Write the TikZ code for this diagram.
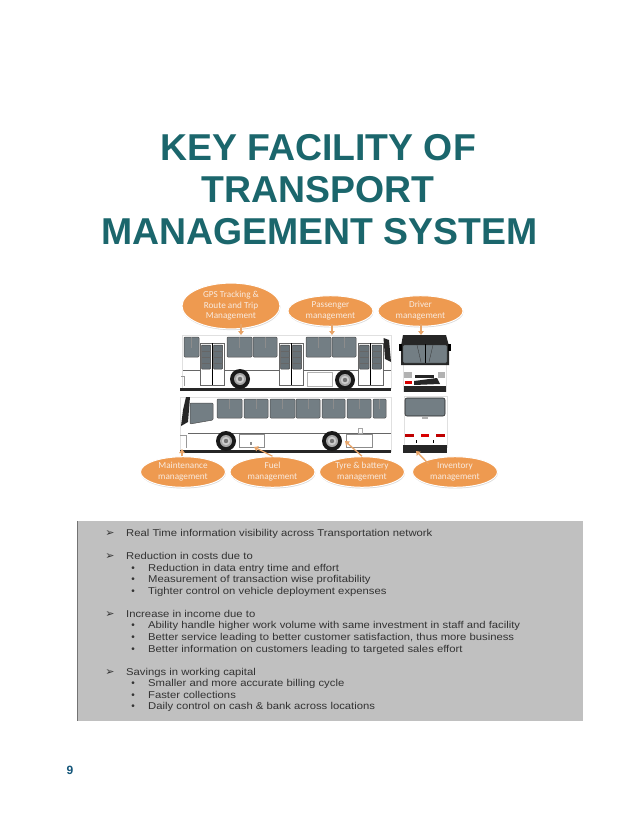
\documentclass[tikz,border=0pt]{standalone}
\usepackage{fontspec}
\setmainfont{Liberation Sans}
\newfontfamily\carl{Carlito}
\newfontfamily\djv{DejaVu Sans}
\newfontfamily\panelf[FakeStretch=1.133]{Liberation Sans}
\usetikzlibrary{shapes.geometric,shadows,arrows.meta}
\definecolor{teal1}{HTML}{1B666C}
\definecolor{pagenum}{HTML}{14567A}
\definecolor{orangeE}{HTML}{EE9A50}
\definecolor{arrowO}{HTML}{E8A468}
\definecolor{creamT}{HTML}{F8EADF}
\definecolor{glass}{HTML}{737E84}
\definecolor{panelG}{HTML}{C0C0C0}
\definecolor{panelT}{HTML}{333333}
\newcommand{\bubtext}[1]{\raisebox{-1pt}{\begin{tabular}{@{}c@{}}#1\end{tabular}}}
\tikzset{
  titletext/.style={font=\fontsize{37.4}{42}\selectfont\bfseries,text=teal1,align=center,inner sep=0pt},
  bubble/.style={ellipse,fill=orangeE,draw=white,line width=1pt,inner sep=0pt,
    font=\carl\fontsize{9.2}{10.8}\selectfont,text=creamT,
    drop shadow={shadow xshift=0.4pt,shadow yshift=-1.2pt,opacity=.3,fill=gray}},
  bubbleS/.style={bubble,minimum width=85pt,minimum height=26pt},
  link/.style={draw=arrowO,line width=1.3pt,-{Triangle[width=5.5pt,length=4pt]}},
  win/.style={fill=glass,draw=black!70,line width=.5pt,rounded corners=1pt},
  pane/.style={fill=glass!90!black,draw=black!75,line width=.5pt,rounded corners=.7pt},
  bodyline/.style={draw=black!60,line width=.45pt},
  shellb/.style={fill=white,draw=black!12,line width=.4pt},
  blackb/.style={fill=black!85,draw=none},
  lvlA/.style={anchor=base west,inner sep=0pt,text=panelT,font=\panelf\fontsize{9.95}{12}\selectfont},
  lvlB/.style={lvlA},
  markA/.style={anchor=base,inner sep=0pt,text=panelT,font=\djv\fontsize{11}{12}\selectfont},
  markB/.style={anchor=base,inner sep=0pt,text=panelT,font=\fontsize{10}{10}\selectfont}
}
\newcommand{\winbox}[4]{\path[win] (#1,#2) rectangle (#3,#4);
  \draw[black!45,line width=.3pt] ({(#1+#3)/2},#2) -- ({(#1+#3)/2},{#2+(#4-#2)*.55});}
\newcommand{\doorset}[4]{% x0 x1 ytop ybot
  \path[fill=white,draw=black!60,line width=.5pt] (#1,{#3-2}) rectangle (#2,#4);
  \draw[black,line width=.9pt] ({(#1+#2)/2},{#3-2}) -- ({(#1+#2)/2},#4);
  \path[pane] ({#1+1.5},#3) rectangle ({(#1+#2)/2-1.5},{#3+24});
  \path[pane] ({(#1+#2)/2+1.5},#3) rectangle ({#2-1.5},{#3+24});
  \foreach \k in {6,12,18}{\draw[black!60,line width=.25pt] ({#1+1.5},{#3+\k}) -- ({(#1+#2)/2-1.5},{#3+\k});
    \draw[black!60,line width=.25pt] ({(#1+#2)/2+1.5},{#3+\k}) -- ({#2-1.5},{#3+\k});}}
\newcommand{\wheelat}[2]{\fill[black!90] (#1,#2) circle (10);
  \fill[black!35] (#1,#2) circle (6); \fill[white!80!black] (#1,#2) circle (4.2); \fill[black!55] (#1,#2) circle (2.2);}
\begin{document}
\begin{tikzpicture}[x=1pt,y=-1pt]
\useasboundingbox (0,0) rectangle (638,826);
\fill[white] (0,0) rectangle (638,826);
% title
\node[titletext] (t1) at (318,148) {KEY FACILITY OF};
\node[titletext] (t2) at (318,190) {TRANSPORT};
\node[titletext] (t3) at (319.5,232) {MANAGEMENT SYSTEM};
% top bus
\path[shellb] (182,335) rectangle (391,388);
\draw[bodyline] (183,370) -- (391,370);
\fill[black!85] (180,387.5) rectangle (391,390.5);
\winbox{184}{337}{199}{357}
\winbox{227}{337}{252}{357}
\winbox{253}{337}{277}{357}
\winbox{306}{337}{331}{357}
\winbox{332}{337}{356}{357}
\doorset{200}{224}{345}{385}
\doorset{279}{303}{345}{385}
\doorset{358}{383}{345}{385}
\path[blackb] (383.5,338) -- (389,340) -- (391,362) -- (385,359) -- cycle;
\wheelat{240}{379}
\wheelat{345}{380}
\draw[black!30,line width=.4pt] (307,372) rectangle (332,386);
\draw[black!40,line width=.4pt] (181,376) -- (184,376) -- (184,386);
% bottom bus
\path[shellb] (180,397) rectangle (391,451);
\draw[bodyline] (188,433) -- (391,433);
\fill[black!85] (180,449.5) rectangle (391,452.5);
\path[blackb] (186,397) -- (190,397) -- (188,422) -- (181,426) -- (183,410) -- cycle;
\path[win] (190,403) -- (213,403) -- (213,420) -- (190,424) -- cycle;
\winbox{217}{399}{242}{418}
\winbox{244}{399}{268}{418}
\winbox{270}{399}{295}{418}
\winbox{296}{399}{320}{418}
\winbox{322}{399}{345}{418}
\winbox{347}{399}{371}{418}
\winbox{373}{399}{386}{418}
\draw[black!45,line width=.4pt] (239,434) rectangle (264,447);
\draw[black!45,line width=.4pt] (346,434) rectangle (372,447);
\draw[black!40,line width=.4pt] (180,435) -- (186,435) -- (186,448);
\draw[black!35,line width=.4pt] (358,428) rectangle (362,433);
\fill[black!45] (250,442) rectangle (252,445);
\wheelat{226}{441}
\wheelat{332}{441}
% front view
\path[shellb] (403,350) rectangle (446,391);
\path[blackb] (403,335) -- (446,335) -- (449,346) -- (449,365) -- (401,365) -- (401,346) -- cycle;
\fill[black] (399,344) rectangle (402,351); \fill[black] (448,344) rectangle (451,351);
\path[fill=glass,draw=black!80,line width=.4pt,rounded corners=1pt] (403,345) rectangle (447,363);
\draw[black,line width=.4pt] (425,344) -- (425,363);
\draw[black!80,line width=.3pt] (417,345) -- (421,362) (433,345) -- (429,362);
\fill[black!30] (404,372) rectangle (412,378); \fill[black!30] (438,372) rectangle (445,378);
\fill[black!85] (415,375) rectangle (434,378);
\fill[red!85!black] (405,381) rectangle (412,384);
\fill[black!85] (414,381) -- (437,378) -- (440,384) -- (414,385) -- cycle;
\fill[black!85] (404,386) rectangle (446,392);
% rear view
\path[shellb] (404,396) rectangle (447,447);
\path[fill=glass,draw=black!85,line width=.6pt,rounded corners=2pt] (405,398) rectangle (445,416);
\fill[black!30] (422,417) rectangle (428,419);
\fill[red!75!black] (405,434) rectangle (414,437);
\fill[red!85!black] (421,434) rectangle (429,437);
\fill[red!75!black] (436,434) rectangle (445,437);
\draw[black,line width=.5pt] (416,440) -- (416,443) (433,440) -- (433,443);
\fill[black!85] (403,445) rectangle (447,453);
% bubbles
\node[bubble,minimum width=98pt,minimum height=35pt] (gps) at (231,306) {\bubtext{GPS Tracking \&\\Route and Trip\\Management}};
\node[bubbleS] (pass) at (330.5,311) {\bubtext{Passenger\\management}};
\node[bubbleS] (drv) at (420.5,311) {\bubtext{Driver\\management}};
\node[bubbleS] (mnt) at (183,472) {\bubtext{Maintenance\\management}};
\node[bubbleS] (fuel) at (272.5,472) {\bubtext{Fuel\\management}};
\node[bubbleS] (tyre) at (362,472) {\bubtext{Tyre \& battery\\management}};
\node[bubbleS] (inv) at (455,472) {\bubtext{Inventory\\management}};
% targets
\coordinate (tgps) at (241,335);
\coordinate (tpass) at (332,335);
\coordinate (tdrv) at (421,335);
\coordinate (tmnt) at (182,449);
\coordinate (tfuel) at (254,447);
\coordinate (ttyre) at (345,441);
\coordinate (tinv) at (416,451);
\draw[link] (241,324) -- (tgps);
\draw[link] (332,324) -- (tpass);
\draw[link] (421,324) -- (tdrv);
\draw[link] (mnt.north) ++(-1,0) -- (tmnt);
\draw[link] (fuel.north) -- (tfuel);
\draw[link] (tyre.north) -- (ttyre);
\draw[link] (inv.north west) ++(4,3) -- (tinv);
% panel
\fill[panelG] (77,521) rectangle (583,721);
\draw[black!55,line width=.8pt] (77,521) -- (77,721);
\foreach \yy/\txt in {
  536/Real Time information visibility across Transportation network,
  559/Reduction in costs due to,
  617/Increase in income due to,
  675/Savings in working capital}{
  \node[markA] at (110,\yy) {➢};
  \node[lvlA] at (126,\yy) {\txt};
}
\foreach \yy/\txt in {
  571/Reduction in data entry time and effort,
  582/Measurement of transaction wise profitability,
  594/Tighter control on vehicle deployment expenses,
  628/Ability handle higher work volume with same investment in staff and facility,
  640/Better service leading to better customer satisfaction{,} thus more business,
  652/Better information on customers leading to targeted sales effort,
  686/Smaller and more accurate billing cycle,
  698/Faster collections,
  709/Daily control on cash \& bank across locations}{
  \node[markB] at (133,\yy) {•};
  \node[lvlB] at (148,\yy) {\txt};
}
\node[anchor=base,inner sep=0pt,text=pagenum,font=\fontsize{12}{14}\selectfont\bfseries] (pg) at (70,774) {9};
\end{tikzpicture}
\end{document}
